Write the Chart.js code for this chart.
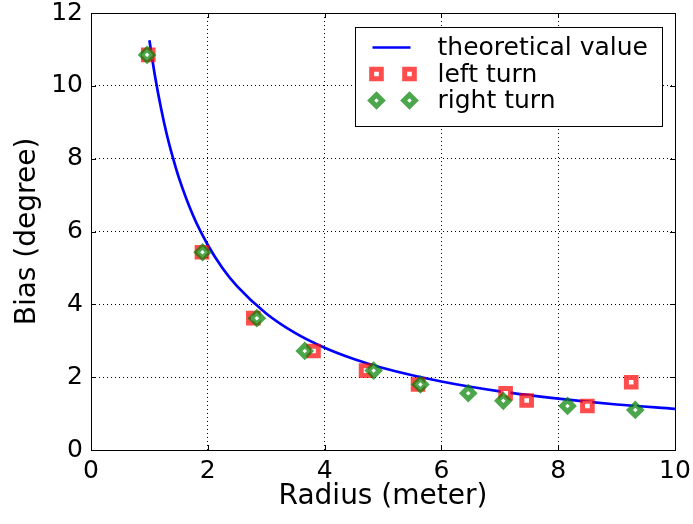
<!DOCTYPE html>
<html><head><meta charset="utf-8">
<script src="https://cdn.jsdelivr.net/npm/chart.js@4"></script>
<style>html,body{margin:0;padding:0;background:#fff;}</style>
</head><body>
<canvas id="c" width="693" height="524" style="width:693px;height:524px;display:block"></canvas>
<script>
const theoryRadius = [1, 1.1, 1.2, 1.3, 1.4, 1.5, 1.75, 2, 2.25, 2.5, 3, 3.5, 4, 4.5, 5, 6, 7, 8, 9, 10];
const theoryBias   = [11.25, 10.23, 9.38, 8.65, 8.04, 7.50, 6.43, 5.63, 5.00, 4.50, 3.75, 3.21, 2.81, 2.50, 2.25, 1.88, 1.61, 1.41, 1.25, 1.13];
const leftRadius  = [0.98, 1.90, 2.78, 3.81, 4.71, 5.60, 7.10, 7.46, 8.50, 9.25];
const leftBias    = [10.85, 5.43, 3.62, 2.72, 2.18, 1.80, 1.56, 1.36, 1.21, 1.86];
const rightRadius = [0.96, 1.91, 2.84, 3.66, 4.84, 5.64, 6.46, 7.06, 8.16, 9.32];
const rightBias   = [10.85, 5.43, 3.62, 2.72, 2.18, 1.80, 1.56, 1.35, 1.21, 1.10];
const xTickValues = [0, 2, 4, 6, 8, 10];
const yTickValues = [0, 2, 4, 6, 8, 10, 12];
const seriesNames = ['theoretical value', 'left turn', 'right turn'];
const xTitle = 'Radius (meter)';
const yTitle = 'Bias (degree)';

const FONT = '"DejaVu Sans", "Bitstream Vera Sans", sans-serif';
const RED = 'rgba(255,0,0,0.7)';
const GREEN = 'rgba(0,128,0,0.7)';
const BLUE = '#0000ff';
const SQ_R = 6.8, DI_R = 5.8, MK_W = 5;

const pts = (xs, ys) => xs.map((x, i) => ({x: x, y: ys[i]}));

function drawSquare(ctx, x, y, r) {
  const s = Math.SQRT1_2 * r;
  ctx.beginPath(); ctx.rect(x - s, y - s, 2 * s, 2 * s);
  ctx.fillStyle = '#fff'; ctx.fill();
  ctx.strokeStyle = RED; ctx.lineWidth = MK_W; ctx.lineJoin = 'miter'; ctx.stroke();
}
function drawDiamond(ctx, x, y, r) {
  ctx.beginPath();
  ctx.moveTo(x - r, y); ctx.lineTo(x, y - r); ctx.lineTo(x + r, y); ctx.lineTo(x, y + r); ctx.closePath();
  ctx.fillStyle = '#fff'; ctx.fill();
  ctx.strokeStyle = GREEN; ctx.lineWidth = MK_W; ctx.lineJoin = 'miter'; ctx.stroke();
}

const framePlugin = {
  id: 'frame',
  afterDatasetsDraw(chart) {
    const {ctx, chartArea: a, scales} = chart;
    ctx.save();
    ctx.strokeStyle = '#000'; ctx.lineWidth = 1;
    ctx.beginPath();
    xTickValues.forEach(v => {
      const px = Math.round(scales.x.getPixelForValue(v)) + 0.5;
      ctx.moveTo(px, a.bottom); ctx.lineTo(px, a.bottom - 5);
      ctx.moveTo(px, a.top); ctx.lineTo(px, a.top + 5);
    });
    yTickValues.forEach(v => {
      const py = Math.round(scales.y.getPixelForValue(v)) + 0.5;
      ctx.moveTo(a.left, py); ctx.lineTo(a.left + 5, py);
      ctx.moveTo(a.right, py); ctx.lineTo(a.right - 5, py);
    });
    ctx.stroke();
    ctx.strokeRect(Math.round(a.left) + 0.5, Math.round(a.top) + 0.5, Math.round(a.right - a.left), Math.round(a.bottom - a.top));
    // legend
    const bw = 307, bh = 99;
    const bx = Math.round(a.right) - 13 - bw + 0.5;
    const by = Math.round(a.top) + 14 + 0.5;
    ctx.fillStyle = '#fff';
    ctx.fillRect(bx, by, bw, bh);
    ctx.strokeStyle = '#000'; ctx.lineWidth = 1;
    ctx.strokeRect(bx, by, bw, bh);
    const rows = [by + 20, by + 46.5, by + 73];
    ctx.strokeStyle = BLUE; ctx.lineWidth = 2.7;
    ctx.beginPath(); ctx.moveTo(bx + 17, rows[0]); ctx.lineTo(bx + 55, rows[0]); ctx.stroke();
    drawSquare(ctx, bx + 21, rows[1], SQ_R); drawSquare(ctx, bx + 54, rows[1], SQ_R);
    drawDiamond(ctx, bx + 21, rows[2], DI_R); drawDiamond(ctx, bx + 54, rows[2], DI_R);
    ctx.fillStyle = '#000';
    ctx.font = '25px ' + FONT;
    ctx.textBaseline = 'middle'; ctx.textAlign = 'left';
    seriesNames.forEach((n, i) => ctx.fillText(n, bx + 82, rows[i] + 1));
    ctx.restore();
  }
};

new Chart(document.getElementById('c'), {
  type: 'scatter',
  data: {
    datasets: [
      {label: seriesNames[0], type: 'line', data: pts(theoryRadius, theoryBias), borderColor: BLUE, borderWidth: 2.7,
       pointRadius: 0, fill: false, cubicInterpolationMode: 'monotone', order: 3},
      {label: seriesNames[1], data: pts(leftRadius, leftBias), pointStyle: 'rect', pointRadius: SQ_R,
       borderColor: RED, backgroundColor: '#fff', borderWidth: MK_W, order: 2},
      {label: seriesNames[2], data: pts(rightRadius, rightBias), pointStyle: 'rectRot', pointRadius: DI_R,
       borderColor: GREEN, backgroundColor: '#fff', borderWidth: MK_W, order: 1}
    ]
  },
  options: {
    responsive: false, animation: false, devicePixelRatio: 1,
    layout: {padding: {top: 13, right: 18, left: 0, bottom: 0}},
    plugins: {legend: {display: false}, tooltip: {enabled: false}},
    scales: {
      x: {
        type: 'linear', min: 0, max: 10,
        afterFit: s => { s.height = 74; s.paddingLeft = 0; s.paddingRight = 0; },
        afterBuildTicks: s => { s.ticks = xTickValues.map(v => ({value: v})); },
        ticks: {font: {size: 25, family: FONT}, color: '#000', padding: 6, maxRotation: 0},
        grid: {color: '#000', lineWidth: 1, drawTicks: false},
        border: {display: false, dash: [1, 3]},
        title: {display: true, text: xTitle, font: {size: 28, family: FONT}, color: '#000', padding: {top: 0, bottom: 10}}
      },
      y: {
        min: 0, max: 12,
        afterFit: s => { s.width = 91; s.paddingTop = 0; s.paddingBottom = 0; },
        afterBuildTicks: s => { s.ticks = yTickValues.map(v => ({value: v})); },
        ticks: {font: {size: 25, family: FONT}, color: '#000', padding: 8},
        grid: {color: '#000', lineWidth: 1, drawTicks: false},
        border: {display: false, dash: [1, 3]},
        title: {display: true, text: yTitle, font: {size: 28, family: FONT}, color: '#000', padding: {top: 11, bottom: 0}}
      }
    }
  },
  plugins: [framePlugin]
});
</script>
</body></html>
